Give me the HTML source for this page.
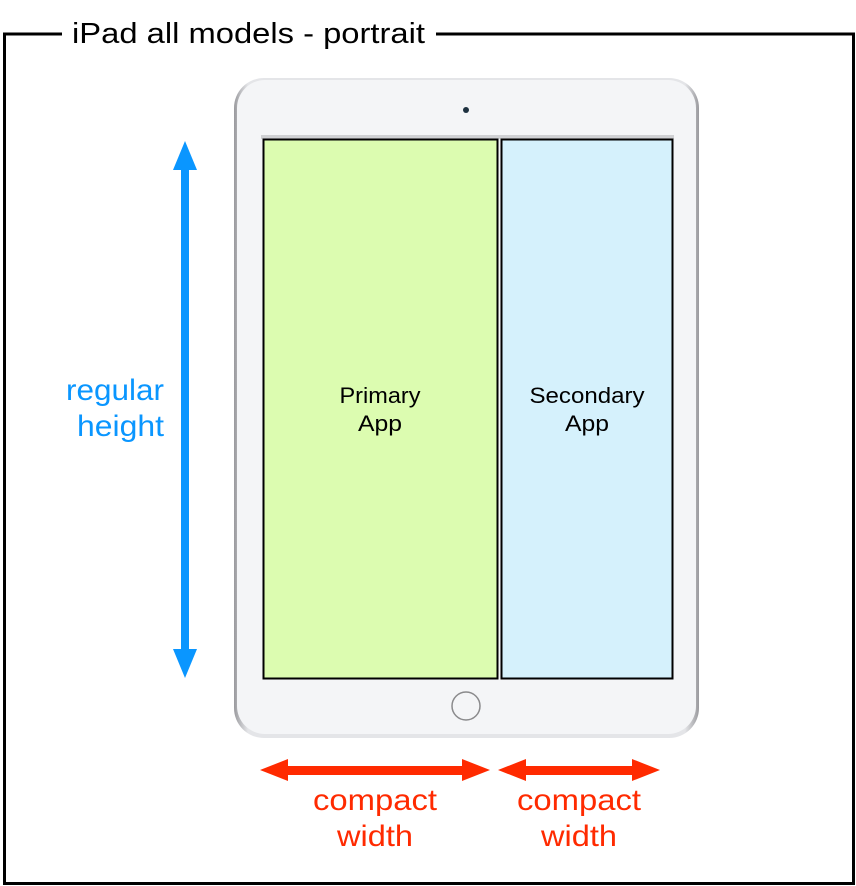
<!DOCTYPE html>
<html><head><meta charset="utf-8"><style>html,body{margin:0;padding:0;background:#fff}svg{display:block}</style></head><body>
<svg width="856" height="886" viewBox="0 0 856 886" xmlns="http://www.w3.org/2000/svg" font-family="Liberation Sans, sans-serif">
<defs>
<linearGradient id="bz" x1="0" y1="0" x2="1" y2="0"><stop offset="0" stop-color="#9a9a9e"/><stop offset="0.03" stop-color="#e4e5e8"/><stop offset="0.97" stop-color="#e4e5e8"/><stop offset="1" stop-color="#9a9a9e"/></linearGradient>
</defs>
<path d="M62 34 H4.5 V883.5 H853.5 V34 H436" fill="none" stroke="#000" stroke-width="3"/>
<text x="72" y="43" font-size="29" fill="#000" textLength="353" lengthAdjust="spacingAndGlyphs">iPad all models - portrait</text>
<rect x="234" y="78" width="465" height="660" rx="30" fill="url(#bz)"/>
<rect x="237" y="80" width="459" height="654" rx="28" fill="#f4f5f7"/>
<circle cx="466" cy="110" r="3" fill="#1e3140"/>
<rect x="261" y="135" width="413" height="4" fill="#cfd0d3"/>
<rect x="263.5" y="139.5" width="234" height="539" fill="#dcfcb0" stroke="#000" stroke-width="2"/>
<rect x="501.5" y="139.5" width="171" height="539" fill="#d5f1fc" stroke="#000" stroke-width="2"/>
<circle cx="466" cy="706" r="14" fill="none" stroke="#8a8a8c" stroke-width="1.5"/>
<text x="380" y="403" font-size="22" text-anchor="middle" textLength="81" lengthAdjust="spacingAndGlyphs">Primary</text>
<text x="380" y="431" font-size="22" text-anchor="middle" textLength="44" lengthAdjust="spacingAndGlyphs">App</text>
<text x="587" y="403" font-size="22" text-anchor="middle" textLength="115" lengthAdjust="spacingAndGlyphs">Secondary</text>
<text x="587" y="431" font-size="22" text-anchor="middle" textLength="44" lengthAdjust="spacingAndGlyphs">App</text>
<g fill="#0a96ff">
<rect x="181" y="165" width="8" height="490"/>
<polygon points="185,141 173,170 197,170"/>
<polygon points="185,678 173,649 197,649"/>
</g>
<text x="164" y="400" font-size="30" fill="#0a96ff" text-anchor="end" textLength="98" lengthAdjust="spacingAndGlyphs">regular</text>
<text x="164" y="436" font-size="30" fill="#0a96ff" text-anchor="end" textLength="87" lengthAdjust="spacingAndGlyphs">height</text>
<g fill="#ff2a00">
<rect x="280" y="766" width="190" height="9"/>
<polygon points="260,770 288,759 288,781"/>
<polygon points="490,770 462,759 462,781"/>
<rect x="518" y="766" width="122" height="9"/>
<polygon points="498,770 526,759 526,781"/>
<polygon points="660,770 632,759 632,781"/>
</g>
<text x="375" y="810" font-size="30" fill="#ff2a00" text-anchor="middle" textLength="124" lengthAdjust="spacingAndGlyphs">compact</text>
<text x="375" y="846" font-size="30" fill="#ff2a00" text-anchor="middle" textLength="76" lengthAdjust="spacingAndGlyphs">width</text>
<text x="579" y="810" font-size="30" fill="#ff2a00" text-anchor="middle" textLength="124" lengthAdjust="spacingAndGlyphs">compact</text>
<text x="579" y="846" font-size="30" fill="#ff2a00" text-anchor="middle" textLength="76" lengthAdjust="spacingAndGlyphs">width</text>
</svg>
</body></html>
